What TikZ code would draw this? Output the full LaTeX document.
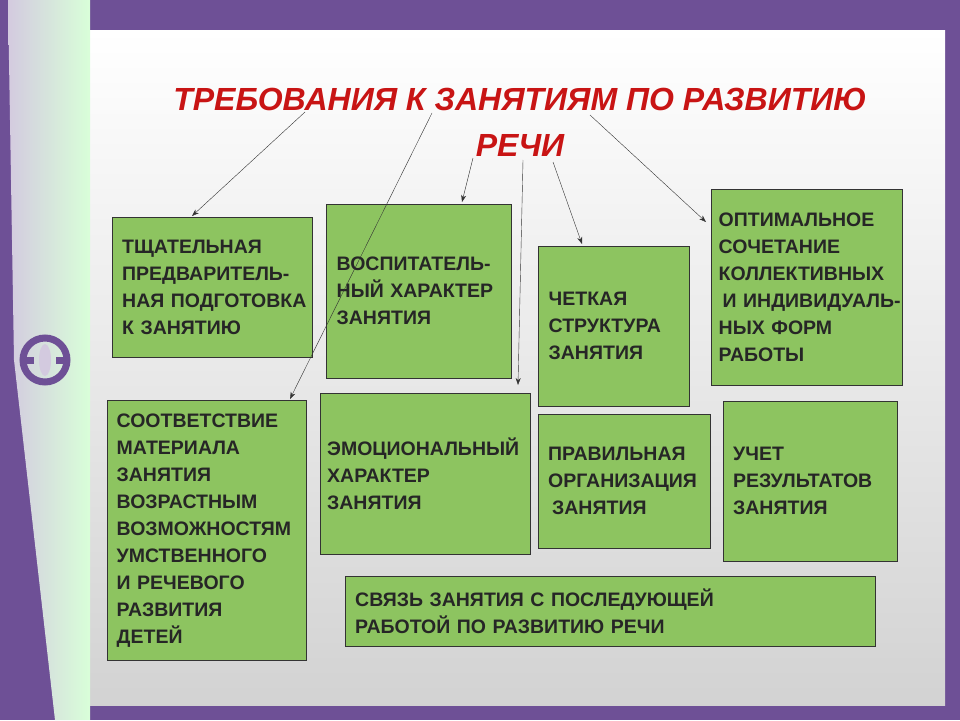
\documentclass[tikz,border=0pt]{standalone}
\usepackage{fontspec}
\setmainfont{Liberation Sans}
\usetikzlibrary{arrows.meta}
\definecolor{frame}{RGB}{110,80,150}
\definecolor{boxgreen}{RGB}{141,196,96}
\definecolor{titlered}{RGB}{200,20,20}
\tikzset{
  req/.style={draw=black!80, fill=boxgreen, anchor=north west, inner sep=0pt,
    align=left, font=\bfseries\fontsize{19.5}{27}\selectfont, text=black!85},
  pointer/.style={-{Stealth[length=7pt,width=5pt]}, thin, black!80}
}
\begin{document}
\begin{tikzpicture}[x=1pt,y=-1pt]
\useasboundingbox (0,0) rectangle (960,720);
% frame and slide
\fill[frame] (0,0) rectangle (960,720);
\shade[top color=white, bottom color=gray!35] (90,30) rectangle (945,705);
\shade[left color=frame!30, right color=green!15] (8,0) -- (90,0) -- (90,720) -- (55,720) -- (14,360) -- cycle;
\draw[frame, line width=7pt] (45,360) circle (22);
\draw[frame, line width=7pt] (20,360) -- (34,360) (56,360) -- (70,360);
\fill[frame!30] (45,360) ellipse (6 and 16);
% title
\node[text=titlered, font=\bfseries\itshape\fontsize{32}{46}\selectfont, align=center] (title) at (520,122)
  {ТРЕБОВАНИЯ К ЗАНЯТИЯМ ПО РАЗВИТИЮ\\РЕЧИ};
\coordinate (t1) at (305,112);
\coordinate (t2) at (432,113);
\coordinate (t3) at (473,158);
\coordinate (t4) at (523,160);
\coordinate (t5) at (553,162);
\coordinate (t6) at (590,115);
% boxes
\node[req, minimum width=200, minimum height=140, text width=196] (prep) at (112,217)
  {\hspace{8pt}ТЩАТЕЛЬНАЯ\\\hspace{8pt}ПРЕДВАРИТЕЛЬ-\\\hspace{8pt}НАЯ ПОДГОТОВКА\\\hspace{8pt}К ЗАНЯТИЮ};
\node[req, minimum width=185, minimum height=174, text width=180] (educ) at (326,204)
  {\hspace{8pt}ВОСПИТАТЕЛЬ-\\\hspace{8pt}НЫЙ ХАРАКТЕР\\\hspace{8pt}ЗАНЯТИЯ};
\node[req, minimum width=151, minimum height=160, text width=146] (struct) at (538,246)
  {\hspace{8pt}ЧЕТКАЯ\\\hspace{8pt}СТРУКТУРА\\\hspace{8pt}ЗАНЯТИЯ};
\node[req, minimum width=191, minimum height=196, text width=188] (forms) at (711,189)
  {\hspace{6pt}ОПТИМАЛЬНОЕ\\\hspace{6pt}СОЧЕТАНИЕ\\\hspace{6pt}КОЛЛЕКТИВНЫХ\\\hspace{10pt}И ИНДИВИДУАЛЬ-\\\hspace{6pt}НЫХ ФОРМ\\\hspace{6pt}РАБОТЫ};
\node[req, minimum width=199, minimum height=260, text width=196] (match) at (107,400)
  {\hspace{8pt}СООТВЕТСТВИЕ\\\hspace{8pt}МАТЕРИАЛА\\\hspace{8pt}ЗАНЯТИЯ\\\hspace{8pt}ВОЗРАСТНЫМ\\\hspace{8pt}ВОЗМОЖНОСТЯМ\\\hspace{8pt}УМСТВЕННОГО\\\hspace{8pt}И РЕЧЕВОГО\\\hspace{8pt}РАЗВИТИЯ\\\hspace{8pt}ДЕТЕЙ};
\node[req, minimum width=210, minimum height=161, text width=208] (emot) at (320,393)
  {\hspace{6pt}ЭМОЦИОНАЛЬНЫЙ\\\hspace{6pt}ХАРАКТЕР\\\hspace{6pt}ЗАНЯТИЯ};
\node[req, minimum width=172, minimum height=134, text width=168] (org) at (538,414)
  {\hspace{8pt}ПРАВИЛЬНАЯ\\\hspace{8pt}ОРГАНИЗАЦИЯ\\\hspace{12pt}ЗАНЯТИЯ};
\node[req, minimum width=174, minimum height=160, text width=170] (result) at (723,401)
  {\hspace{8pt}УЧЕТ\\\hspace{8pt}РЕЗУЛЬТАТОВ\\\hspace{8pt}ЗАНЯТИЯ};
\node[req, minimum width=530, minimum height=70, text width=526] (link) at (345,576)
  {\hspace{8pt}СВЯЗЬ ЗАНЯТИЯ С ПОСЛЕДУЮЩЕЙ\\\hspace{8pt}РАБОТОЙ ПО РАЗВИТИЮ РЕЧИ};
% arrows
\draw[pointer] (t1) -- (192,216);
\draw[pointer] (t2) -- (290,399);
\draw[pointer] (t3) -- (462,202);
\draw[pointer] (t4) -- (518,385);
\draw[pointer] (t5) -- (582,244);
\draw[pointer] (t6) -- (706,222);
\end{tikzpicture}
\end{document}
